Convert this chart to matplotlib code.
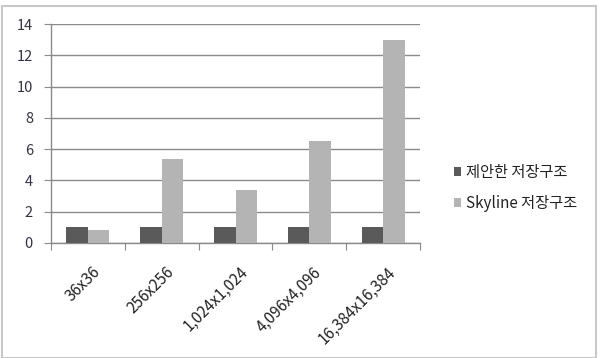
import matplotlib
matplotlib.use("Agg")
import matplotlib.pyplot as plt
from matplotlib.patches import Rectangle
import numpy as np

plt.rcParams['font.family'] = ['Noto Sans CJK KR', 'DejaVu Sans']

categories = ["36x36", "256x256", "1,024x1,024", "4,096x4,096", "16,384x16,384"]
proposed = [1, 1, 1, 1, 1]
skyline = [0.8, 5.4, 3.4, 6.55, 13.0]
series_names = ["제안한 저장구조", "Skyline 저장구조"]
yticks = [0, 2, 4, 6, 8, 10, 12, 14]

W, H = 602, 358
fig = plt.figure(figsize=(W / 100, H / 100), dpi=100)
fig.patch.set_facecolor('white')
fig.patches.append(Rectangle((2 / W, 0), 594 / W, (H - 6) / H, transform=fig.transFigure,
                             fill=False, edgecolor='#c8c8c8', linewidth=1.5))

ax = fig.add_axes([51 / W, (H - 243) / H, 369 / W, 219 / H])
x = np.arange(len(categories))
bw = 0.29
ax.bar(x - bw / 2, proposed, bw, color='#5a5a5a', label=series_names[0], zorder=3)
ax.bar(x + bw / 2, skyline, bw, color='#b4b4b4', label=series_names[1], zorder=3)

ax.set_xlim(-0.5, len(categories) - 0.5)
ax.set_ylim(0, 14)
ax.set_yticks(yticks)
ax.set_yticklabels([str(v) for v in yticks], fontsize=10.5, color='#333344')
ax.yaxis.grid(True, color='#8a8a8a', linewidth=1, zorder=0)
ax.set_axisbelow(True)

ax.set_xticks(np.arange(len(categories) + 1) - 0.5, minor=False)
ax.set_xticklabels([])
ax.set_xticks(x + 0.05, minor=True)
ax.set_xticklabels(categories, minor=True, rotation=45, ha='right', va='top',
                   rotation_mode='anchor', fontsize=11, color='#222222')
ax.tick_params(axis='x', which='minor', length=0, pad=15)
ax.tick_params(axis='x', which='major', length=5, color='#8a8a8a')
ax.tick_params(axis='y', length=5, color='#8a8a8a', pad=8)

for s in ['top', 'right']:
    ax.spines[s].set_visible(False)
for s in ['left', 'bottom']:
    ax.spines[s].set_color('#8a8a8a')
    ax.spines[s].set_linewidth(1)

fig.legend(loc='center left', bbox_to_anchor=(440 / W, 1 - 188 / H), frameon=False,
           fontsize=11, handlelength=0.5, handleheight=0.5, handletextpad=0.3,
           labelspacing=0.9, labelcolor='#222222')

fig.savefig("out.png", dpi=100, facecolor='white')
